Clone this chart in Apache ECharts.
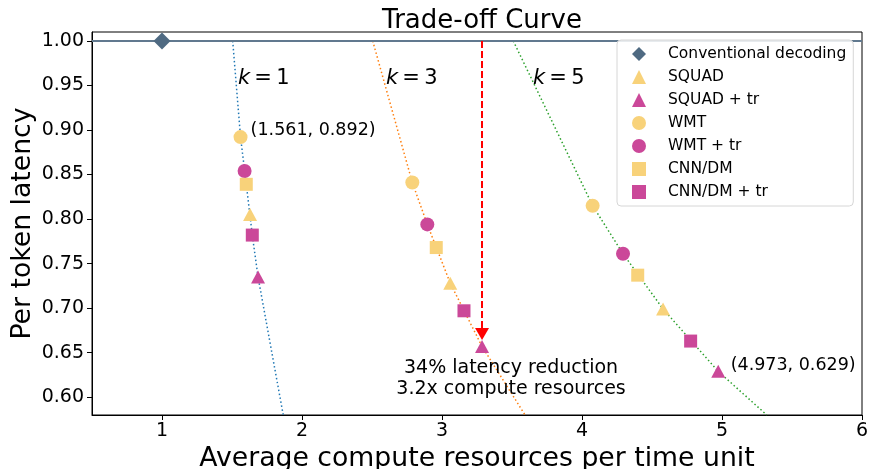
<!DOCTYPE html>
<html>
<head>
<meta charset="utf-8">
<script src="https://cdn.jsdelivr.net/npm/echarts@6/dist/echarts.min.js"></script>
<style>
  html, body { margin: 0; padding: 0; background: #fff; }
  #chart { width: 870px; height: 469px; }
</style>
</head>
<body>
<div id="chart"></div>
<script>
// tick labels
const xTicks = [1, 2, 3, 4, 5, 6];
const yTicks = [0.60, 0.65, 0.70, 0.75, 0.80, 0.85, 0.90, 0.95, 1.00];

// measured points [compute, latency]
const conventional = [[1, 1.0]];
const squad = [[1.629, 0.805], [3.059, 0.728], [4.579, 0.699]];
const squadTr = [[1.686, 0.735], [3.286, 0.657], [4.973, 0.629]];
const wmt = [[1.561, 0.892], [2.788, 0.841], [4.076, 0.815]];
const wmtTr = [[1.590, 0.854], [2.895, 0.794], [4.293, 0.761]];
const cnn = [[1.602, 0.839], [2.959, 0.768], [4.398, 0.737]];
const cnnTr = [[1.645, 0.782], [3.157, 0.697], [4.776, 0.663]];

// trade-off curves
const curveK1 = [[1.505, 1.0], [1.561, 0.892], [1.602, 0.839], [1.645, 0.782], [1.686, 0.735], [1.866, 0.58]];
const curveK3 = [[2.505, 1.0], [2.788, 0.841], [2.895, 0.794], [3.059, 0.728], [3.286, 0.657], [3.593, 0.58]];
const curveK5 = [[3.509, 1.0], [4.076, 0.815], [4.293, 0.761], [4.579, 0.699], [4.973, 0.629], [5.32, 0.58]];
const baseline = [[0.5, 1.0], [6, 1.0]];

const FONT = 'DejaVu Sans';
const YELLOW = '#f8d27a';
const MAGENTA = '#cb4899';

const chart = echarts.init(document.getElementById('chart'));

function curve(data, color) {
  return {
    type: 'line', data: data, showSymbol: false, silent: true, z: 1,
    lineStyle: { color: color, width: 1.5, type: [1.5, 2.5] }
  };
}
function pts(name, data, symbol, size, color) {
  return {
    name: name, type: 'scatter', data: data, symbol: symbol, symbolSize: size, z: 5,
    itemStyle: { color: color, opacity: 1 }
  };
}

const option = {
  animation: false,
  title: {
    text: 'Trade-off Curve', left: 477, textAlign: 'center', top: 3,
    textStyle: { fontFamily: FONT, fontSize: 26, fontWeight: 'normal', color: '#000' }
  },
  legend: {
    orient: 'vertical', left: 617, top: 40,
    data: ['Conventional decoding', 'SQUAD', 'SQUAD + tr', 'WMT', 'WMT + tr', 'CNN/DM', 'CNN/DM + tr'],
    itemWidth: 14, itemHeight: 14, itemGap: 7,
    padding: [6, 7, 6, 15],
    backgroundColor: 'rgba(255,255,255,0.85)',
    borderColor: '#d6d6d6', borderWidth: 1, borderRadius: 4,
    textStyle: { fontFamily: FONT, fontSize: 15.5, color: '#000', padding: [0, 0, 0, 17] }
  },
  grid: { left: 92, right: 8, top: 32, bottom: 54, show: true, borderColor: '#000', borderWidth: 1, outerBoundsMode: 'none' },
  xAxis: {
    type: 'value', min: 0.5, max: 6,
    name: 'Average compute resources per time unit', nameLocation: 'middle', nameGap: 27,
    nameTextStyle: { fontFamily: FONT, fontSize: 26.7, color: '#000' },
    axisLine: { lineStyle: { color: '#000' } },
    axisTick: { show: true, length: 5, customValues: xTicks, lineStyle: { color: '#000' } },
    axisLabel: { customValues: xTicks, margin: 7, fontFamily: FONT, fontSize: 19, color: '#000' },
    splitLine: { show: false }
  },
  yAxis: {
    type: 'value', min: 0.58, max: 1.01,
    name: 'Per token latency', nameLocation: 'middle', nameGap: 55, nameMoveOverlap: false,
    nameTextStyle: { fontFamily: FONT, fontSize: 26.7, color: '#000' },
    axisLine: { show: true, lineStyle: { color: '#000' } },
    axisTick: { show: true, length: 5, customValues: yTicks, lineStyle: { color: '#000' } },
    axisLabel: {
      customValues: yTicks, margin: 8, fontFamily: FONT, fontSize: 19, color: '#000',
      formatter: v => v.toFixed(2)
    },
    splitLine: { show: false }
  },
  series: [
    {
      type: 'line', data: baseline, showSymbol: false, silent: true, z: 2,
      lineStyle: { color: '#61798f', width: 2 },
      markLine: {
        silent: true, symbol: ['none', 'triangle'], symbolSize: [14, 12],
        label: { show: false },
        lineStyle: { color: '#ff0000', width: 2, type: [7, 3] },
        data: [[{ coord: [3.286, 1.0] }, { coord: [3.286, 0.671] }]]
      }
    },
    curve(curveK1, '#1f77b4'),
    curve(curveK3, '#ff7f0e'),
    curve(curveK5, '#2ca02c'),
    pts('Conventional decoding', conventional, 'diamond', 17, '#4f6a82'),
    pts('SQUAD', squad, 'triangle', [14, 13], YELLOW),
    pts('SQUAD + tr', squadTr, 'triangle', [14, 13], MAGENTA),
    pts('WMT', wmt, 'circle', 14, YELLOW),
    pts('WMT + tr', wmtTr, 'circle', 14, MAGENTA),
    pts('CNN/DM', cnn, 'rect', 13, YELLOW),
    pts('CNN/DM + tr', cnnTr, 'rect', 13, MAGENTA)
  ]
};
chart.setOption(option);

// annotations placed in data coordinates
function at(x, y) { return chart.convertToPixel({ gridIndex: 0 }, [x, y]); }
function kLabel(k, x) {
  const p = at(x, 0.958);
  return {
    type: 'text', x: p[0], y: p[1], z: 10,
    style: {
      text: '{i|k}\u2009=\u2009' + k, verticalAlign: 'middle',
      font: '21px "' + FONT + '"', fill: '#000',
      rich: { i: { fontStyle: 'italic', fontFamily: FONT, fontSize: 21, fill: '#000' } }
    }
  };
}
function note(text, x, y, align) {
  const p = at(x, y);
  return {
    type: 'text', x: p[0], y: p[1], z: 10,
    style: { text: text, align: align, verticalAlign: 'middle', font: '17.5px "' + FONT + '"', fill: '#000' }
  };
}
const p1 = at(3.493, 0.621);
chart.setOption({
  graphic: [
    kLabel(1, 1.543), kLabel(3, 2.6), kLabel(5, 3.65),
    note('(1.561, 0.892)', 1.633, 0.899, 'left'),
    note('(4.973, 0.629)', 5.062, 0.636, 'left'),
    {
      type: 'text', x: p1[0], y: p1[1], z: 10,
      style: {
        text: '34% latency reduction\n3.2x compute resources', align: 'center', verticalAlign: 'middle',
        font: '19px "' + FONT + '"', lineHeight: 21, fill: '#000'
      }
    }
  ]
});
</script>
</body>
</html>
